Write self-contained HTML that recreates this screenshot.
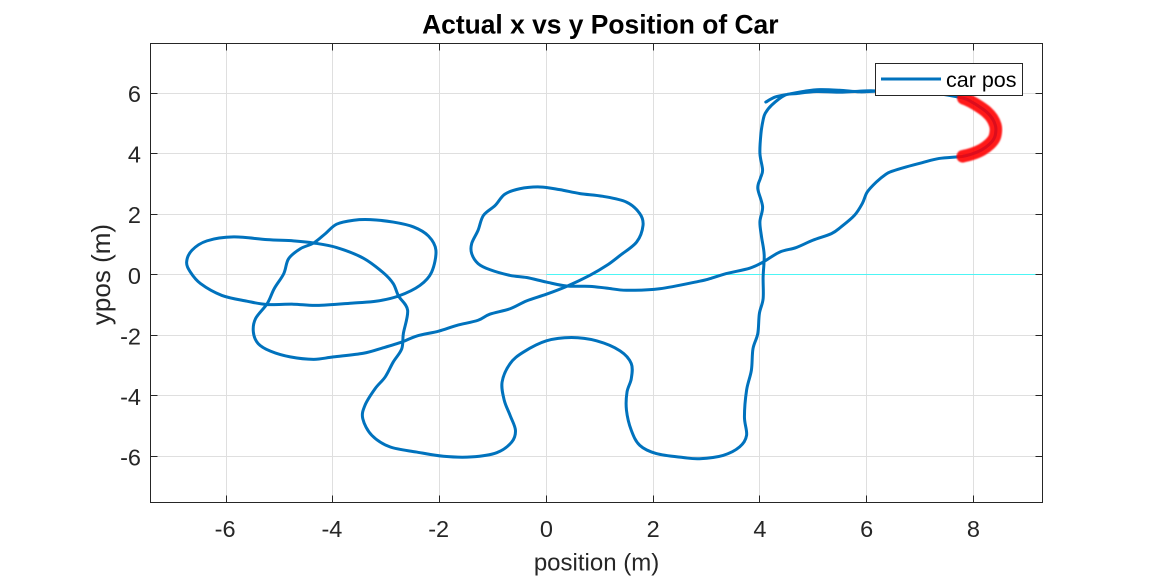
<!DOCTYPE html>
<html>
<head>
<meta charset="utf-8">
<title>Actual x vs y Position of Car</title>
<style>
html,body{margin:0;padding:0;background:#fff;width:1152px;height:576px;overflow:hidden}
svg{display:block;font-family:"Liberation Sans",Arial,sans-serif}
</style>
</head>
<body>
<svg id="chart" width="1152" height="576" viewBox="0 0 1152 576" xmlns="http://www.w3.org/2000/svg">
<defs><filter id="soft" x="-20%" y="-20%" width="140%" height="140%"><feGaussianBlur stdDeviation="0.7"/></filter></defs>
<rect x="0" y="0" width="1152" height="576" fill="#ffffff"/>
<g id="grid"></g>
<g id="marks"></g>
<g id="axes"></g>
<text x="600.3" y="33.5" text-anchor="middle" font-size="26.4" font-weight="bold" fill="#000">Actual x vs y Position of Car</text>
<text x="596.5" y="570.5" text-anchor="middle" font-size="24" fill="#262626">position (m)</text>
<text transform="translate(110 274.5) rotate(-90)" text-anchor="middle" font-size="26" fill="#262626">ypos (m)</text>
<g>
<rect x="875.5" y="63.5" width="147" height="32" fill="#fff" stroke="#262626" stroke-width="1"/>
<line x1="881" y1="79" x2="941" y2="79" stroke="#0072BD" stroke-width="3"/>
<text x="946" y="87" font-size="21.5" fill="#000">car pos</text>
</g>
</svg>
<script>
var xTicks = [-6,-4,-2,0,2,4,6,8];
var yTicks = [-6,-4,-2,0,2,4,6];
var xLimits = [-7.417, 9.294];
var yLimits = [-7.515, 7.634];
var carX = [4.11,4.29,4.56,4.84,5.12,5.49,5.87,6.16,6.61,7.17,7.81,7.97,8.12,8.25,8.35,8.41,8.42,8.39,8.30,8.16,7.99,7.80,7.36,7.04,6.74,6.48,6.36,6.18,6.01,5.92,5.77,5.52,5.34,4.99,4.68,4.37,4.06,3.81,3.37,3.06,2.87,2.12,1.50,1.13,0.81,0.38,0.00,-0.37,-0.68,-1.06,-1.28,-1.40,-1.40,-1.28,-1.18,-0.96,-0.78,-0.50,-0.12,0.25,0.63,1.06,1.50,1.75,1.81,1.69,1.38,1.13,0.81,0.38,0.00,-0.37,-0.68,-1.06,-1.28,-1.68,-2.02,-2.43,-2.71,-3.06,-3.43,-3.99,-4.36,-4.80,-5.17,-5.40,-5.49,-5.45,-5.23,-5.10,-4.92,-4.83,-4.61,-4.36,-4.14,-3.93,-3.61,-3.30,-2.87,-2.49,-2.21,-2.07,-2.15,-2.37,-2.77,-3.18,-3.61,-4.30,-4.74,-5.23,-5.61,-6.08,-6.48,-6.67,-6.74,-6.64,-6.36,-5.86,-5.23,-4.74,-4.36,-3.93,-3.43,-3.05,-2.87,-2.77,-2.60,-2.68,-2.71,-2.87,-3.02,-3.21,-3.40,-3.44,-3.27,-2.93,-2.43,-1.93,-1.40,-0.93,-0.65,-0.58,-0.68,-0.79,-0.83,-0.68,-0.43,0.00,0.47,0.94,1.38,1.59,1.59,1.51,1.50,1.59,1.75,2.06,2.56,2.87,3.31,3.62,3.75,3.71,3.75,3.84,3.87,3.96,3.99,4.06,4.06,4.08,4.03,4.00,4.05,3.96,4.01,4.05,4.00,4.02,4.06,4.10,4.22,4.47,4.68,5.06,5.49,5.99,6.16];
var carY = [5.70,5.87,5.97,6.06,6.11,6.09,6.04,6.06,6.09,6.02,5.83,5.70,5.54,5.37,5.17,4.94,4.74,4.51,4.31,4.13,4.00,3.91,3.84,3.70,3.56,3.42,3.32,3.06,2.73,2.36,1.96,1.58,1.36,1.14,0.90,0.75,0.42,0.22,0.04,-0.13,-0.21,-0.46,-0.51,-0.44,-0.38,-0.37,-0.24,-0.09,-0.02,0.17,0.37,0.70,1.03,1.47,1.96,2.29,2.66,2.84,2.90,2.81,2.68,2.59,2.40,2.02,1.63,1.08,0.64,0.31,-0.02,-0.38,-0.64,-0.86,-1.12,-1.30,-1.50,-1.67,-1.86,-2.02,-2.22,-2.41,-2.59,-2.71,-2.79,-2.71,-2.52,-2.27,-1.89,-1.45,-0.95,-0.46,0.04,0.53,0.86,1.05,1.36,1.67,1.80,1.82,1.74,1.58,1.28,0.81,0.09,-0.35,-0.70,-0.87,-0.93,-1.01,-0.97,-0.98,-0.87,-0.68,-0.29,0.09,0.42,0.81,1.12,1.25,1.16,1.12,1.05,0.90,0.55,0.06,-0.29,-0.70,-1.17,-1.94,-2.44,-2.88,-3.37,-3.76,-4.31,-4.75,-5.30,-5.68,-5.85,-5.99,-6.01,-5.87,-5.52,-5.13,-4.64,-4.14,-3.54,-2.93,-2.55,-2.18,-2.07,-2.18,-2.51,-2.93,-3.43,-3.87,-4.47,-5.13,-5.63,-5.90,-6.03,-6.07,-5.96,-5.68,-5.30,-4.69,-3.81,-3.15,-2.44,-1.94,-1.28,-0.79,-0.07,0.65,1.26,1.75,2.25,2.85,3.19,3.46,4.01,4.67,5.11,5.33,5.60,5.93,5.98,6.05,6.03,6.07,6.07];
var currentX = [7.81,7.97,8.12,8.25,8.35,8.41,8.42,8.39,8.30,8.16,7.99,7.80];
var currentY = [5.83,5.70,5.54,5.37,5.17,4.94,4.74,4.51,4.31,4.13,4.00,3.91];
var referenceX = [0, 9.294];
var referenceY = [0, 0];

var plot = {left:150.5, right:1042.5, top:43.5, bottom:502.5};
var NS = 'http://www.w3.org/2000/svg';

function scaleX(v){
  return plot.left + (v - xLimits[0]) / (xLimits[1] - xLimits[0]) * (plot.right - plot.left);
}
function scaleY(v){
  return plot.bottom - (v - yLimits[0]) / (yLimits[1] - yLimits[0]) * (plot.bottom - plot.top);
}
function make(tag, parent, attrs){
  var el = document.createElementNS(NS, tag);
  for (var k in attrs) el.setAttribute(k, attrs[k]);
  parent.appendChild(el);
  return el;
}
function smoothPath(xs, ys){
  var p = xs.map(function(x, i){ return [scaleX(x), scaleY(ys[i])]; });
  var d = 'M' + p[0][0].toFixed(2) + ' ' + p[0][1].toFixed(2);
  for (var i = 0; i < p.length - 1; i++){
    var a = p[Math.max(i - 1, 0)], b = p[i], c = p[i + 1], e = p[Math.min(i + 2, p.length - 1)];
    d += 'C' + (b[0] + (c[0] - a[0]) / 6).toFixed(2) + ' ' + (b[1] + (c[1] - a[1]) / 6).toFixed(2) +
         ' ' + (c[0] - (e[0] - b[0]) / 6).toFixed(2) + ' ' + (c[1] - (e[1] - b[1]) / 6).toFixed(2) +
         ' ' + c[0].toFixed(2) + ' ' + c[1].toFixed(2);
  }
  return d;
}

var gridG = document.getElementById('grid');
var axesG = document.getElementById('axes');
var marksG = document.getElementById('marks');

xTicks.forEach(function(t){
  var x = Math.floor(scaleX(t)) + 0.5;
  var g = make('line', gridG, {x1:x, x2:x, y1:plot.top, y2:plot.bottom, stroke:'#dfdfdf', 'stroke-width':1});
  
  
  var t1 = make('line', axesG, {x1:x, x2:x, y1:plot.bottom, y2:plot.bottom - 7, stroke:'#262626', 'stroke-width':1});
  
  
  var t2 = make('line', axesG, {x1:x, x2:x, y1:plot.top, y2:plot.top + 7, stroke:'#262626', 'stroke-width':1});
  
  
  var lab = make('text', axesG, {x:scaleX(t) - (t < 0 ? 1 : 0), y:537, 'text-anchor':'middle', 'font-size':23.5, fill:'#262626'});
  
  
  lab.textContent = t;
});
yTicks.forEach(function(t){
  var y = Math.floor(scaleY(t)) + 0.5;
  var g = make('line', gridG, {x1:plot.left, x2:plot.right, y1:y, y2:y, stroke:'#dfdfdf', 'stroke-width':1});
  
  
  var t1 = make('line', axesG, {x1:plot.left, x2:plot.left + 7, y1:y, y2:y, stroke:'#262626', 'stroke-width':1});
  
  
  var t2 = make('line', axesG, {x1:plot.right, x2:plot.right - 7, y1:y, y2:y, stroke:'#262626', 'stroke-width':1});
  
  
  var lab = make('text', axesG, {x:141, y:scaleY(t) + 9, 'text-anchor':'end', 'font-size':23.5, fill:'#262626'});
  
  
  lab.textContent = t;
});

var box = make('rect', axesG, {x:plot.left, y:plot.top, width:plot.right - plot.left, height:plot.bottom - plot.top, fill:'none', stroke:'#262626', 'stroke-width':1});



var ref = make('line', marksG, {x1:scaleX(referenceX[0]), y1:Math.floor(scaleY(referenceY[0])) + 0.5, x2:scaleX(referenceX[1]), y2:Math.floor(scaleY(referenceY[1])) + 0.5, stroke:'#4df5f5', 'stroke-width':1});



var carLine = make('path', marksG, {d:smoothPath(carX, carY), fill:'none', stroke:'#0072BD', 'stroke-width':3, 'stroke-linejoin':'round', 'stroke-linecap':'round'});



var currentD = smoothPath(currentX, currentY);
var red1 = make('path', marksG, {d:currentD, fill:'none', stroke:'#ff0000', 'stroke-opacity':0.9, 'stroke-width':12.5, 'stroke-linecap':'round', filter:'url(#soft)'});


var red3 = make('path', marksG, {d:currentD, fill:'none', stroke:'#c81030', 'stroke-opacity':0.35, 'stroke-width':3});


</script>
</body>
</html>
